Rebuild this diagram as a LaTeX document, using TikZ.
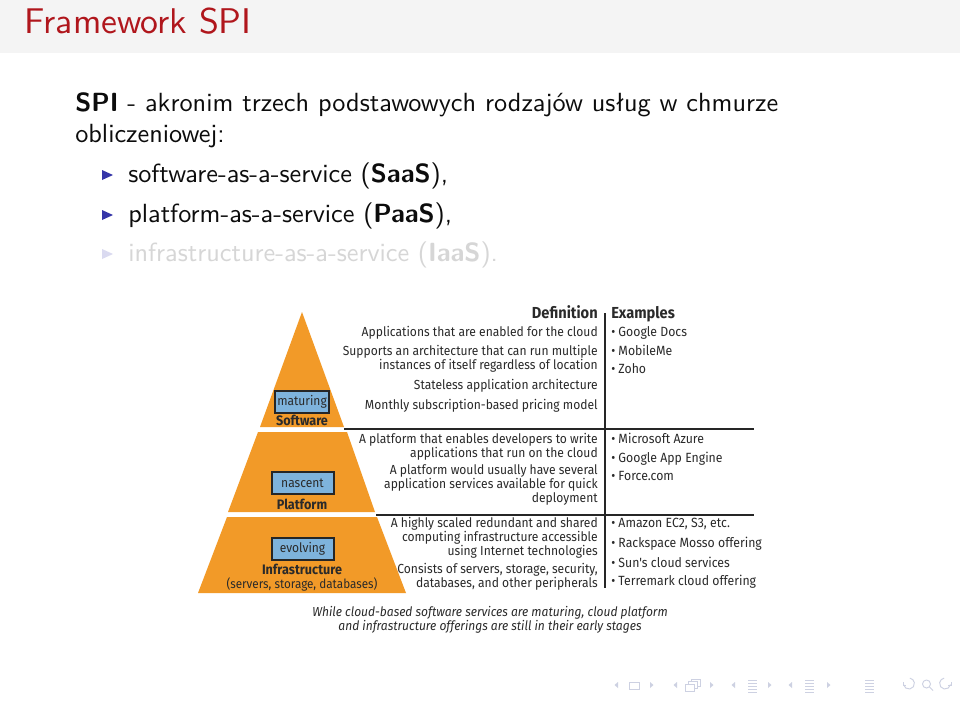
\documentclass[tikz,border=0pt]{standalone}
\usepackage{fontspec}
\setmainfont{lmsans10-regular.otf}[BoldFont=lmsans10-bold.otf]
\newfontfamily\figfont{Fira Sans}[FakeStretch=0.92]
\definecolor{titlered}{HTML}{B0161C}
\definecolor{band}{HTML}{F4F4F4}
\definecolor{bodyink}{HTML}{0C0C0C}
\definecolor{fadeink}{HTML}{D6D6D6}
\definecolor{bullet}{HTML}{3535A8}
\definecolor{fadebullet}{HTML}{DADAF0}
\definecolor{pyr}{HTML}{F29A28}
\definecolor{tag}{HTML}{7EB3DC}
\definecolor{figink}{HTML}{2A2A2A}
\definecolor{navc}{HTML}{CDD1E2}
\tikzset{
  x=0.75pt,y=-0.75pt,
  body/.style={anchor=base west,inner sep=0pt,text=bodyink,font=\fontsize{19.7}{24}\selectfont},
  fig/.style={inner sep=0pt,text=figink,font=\figfont\fontsize{9.85}{11}\selectfont},
  figb/.style={fig,font=\figfont\bfseries\fontsize{11.95}{13}\selectfont},
  figi/.style={fig,anchor=base,font=\figfont\itshape\fontsize{9.8}{11}\selectfont},
  defn/.style={fig,anchor=base east},
  exam/.style={fig,anchor=base west,font=\figfont\fontsize{10}{11}\selectfont},
  lab/.style={fig,anchor=base,font=\figfont\bfseries\fontsize{10.3}{11}\selectfont},
  tier/.style={fill=pyr,draw=none},
  tagbox/.style={fig,anchor=center,fill=tag,draw=black!85,line width=1.5pt,minimum height=16pt,font=\figfont\fontsize{9.8}{11}\selectfont},
  rule/.style={draw=black!85,line width=1.1pt},
  nav/.style={draw=navc,line width=0.7pt},
}
\begin{document}
\begin{tikzpicture}
\useasboundingbox (0,0) rectangle (960,700);
\fill[white] (0,0) rectangle (960,700);
\fill[band] (0,0) rectangle (960,53);
\node[anchor=base west,inner sep=0pt,text=titlered,font=\fontsize{26.8}{32}\selectfont] (title) at (24,33) {Framework SPI};
\node[body] (intro1) at (75,111) {\makebox[527.25pt][s]{\textbf{SPI} - akronim trzech podstawowych rodzajów usług w chmurze}};
\node[body] (intro2) at (75,142.5) {obliczeniowej:};
\fill[bullet] (102,170) -- (113,175) -- (102,180) -- cycle;
\fill[bullet] (102,210) -- (113,215) -- (102,220) -- cycle;
\fill[fadebullet] (102,249) -- (113,254) -- (102,259) -- cycle;
\node[body] (i1) at (128,182) {software-as-a-service (\textbf{SaaS}),};
\node[body] (i2) at (128,222) {platform-as-a-service (\textbf{PaaS}),};
\node[body,text=fadeink] (i3) at (128,261) {infrastructure-as-a-service (\textbf{IaaS}).};
% pyramid
\fill[tier] (302,312) -- (344,427) -- (260,427) -- cycle;
\fill[tier] (258,432) -- (347,432) -- (375,512) -- (228,512) -- cycle;
\fill[tier] (227,517) -- (377,517) -- (406,593) -- (198,593) -- cycle;
\node[tagbox,minimum width=40pt] (mat) at (302,402) {maturing};
\node[tagbox,minimum width=46.5pt] (nas) at (302.5,483) {nascent};
\node[tagbox,minimum width=46.5pt] (evo) at (302.5,549) {evolving};
\node[lab] (sw) at (302,425) {Software};
\node[lab] (pf) at (302,509) {Platform};
\node[lab] (inf) at (302,574) {Infrastructure};
\node[fig,anchor=base,font=\figfont\fontsize{9.55}{11}\selectfont] (infs) at (302,588) {(servers, storage, databases)};
% rules
\draw[rule] (605,313) -- (605,588);
\draw[rule] (344,429) -- (754,429);
\draw[rule] (376,515) -- (754,515);
% definitions
\node[figb,anchor=base east] (dh) at (598,318) {Definition};
\node[defn] (d1) at (598,336) {Applications that are enabled for the cloud};
\node[defn] (d2) at (598,355) {Supports an architecture that can run multiple};
\node[defn] (d3) at (598,369) {instances of itself regardless of location};
\node[defn] (d4) at (598,389) {Stateless application architecture};
\node[defn] (d5) at (598,409) {Monthly subscription-based pricing model};
\node[defn] (d6) at (598,443) {A platform that enables developers to write};
\node[defn] (d7) at (598,457) {applications that run on the cloud};
\node[defn] (d8) at (598,474) {A platform would usually have several};
\node[defn] (d9) at (598,488) {application services available for quick};
\node[defn] (d10) at (598,502) {deployment};
\node[defn] (d11) at (598,527) {A highly scaled redundant and shared};
\node[defn] (d12) at (598,541) {computing infrastructure accessible};
\node[defn] (d13) at (598,555) {using Internet technologies};
\node[defn] (d14) at (598,573) {Consists of servers, storage, security,};
\node[defn] (d15) at (598,587) {databases, and other peripherals};
% examples
\node[figb,anchor=base west] (eh) at (611,318) {Examples};
\node[exam] (e1) at (611,336) {• Google Docs};
\node[exam] (e2) at (611,355) {• MobileMe};
\node[exam] (e3) at (611,373) {• Zoho};
\node[exam] (e4) at (611,443) {• Microsoft Azure};
\node[exam] (e5) at (611,462) {• Google App Engine};
\node[exam] (e6) at (611,480) {• Force.com};
\node[exam] (e7) at (611,527) {• Amazon EC2, S3, etc.};
\node[exam] (e8) at (611,547) {• Rackspace Mosso offering};
\node[exam] (e9) at (611,567) {• Sun's cloud services};
\node[exam] (e10) at (611,585) {• Terremark cloud offering};
% caption
\node[figi] (c1) at (490,616) {While cloud-based software services are maturing, cloud platform};
\node[figi] (c2) at (490,630) {and infrastructure offerings are still in their early stages};
% navigation symbols
\foreach \a/\b in {618/650,677/710,735/768,792/827}{
  \fill[navc] (\a-3.5,685) -- (\a,682) -- (\a,688) -- cycle;
  \fill[navc] (\b+3.5,685) -- (\b,682) -- (\b,688) -- cycle;
}
\draw[nav] (629.5,682) rectangle (639.5,689);
\draw[nav] (685,684) rectangle (694,691);
\draw[nav] (688,684) -- (688,681.5) -- (697,681.5) -- (697,688) -- (694,688);
\draw[nav] (691,681.5) -- (691,679.5) -- (700,679.5) -- (700,686) -- (697,686);
\foreach \x in {748,805,865}{
  \foreach \y in {680,683,686,689,692}{\draw[nav] (\x,\y) -- (\x+9,\y);}
}
\draw[nav] (903,682) -- (903,685) -- (906,685);
\draw[nav] (903.5,684.5) arc (170:-80:5.5);
\draw[nav] (926.5,684) circle (4);
\draw[nav] (929.5,687) -- (933,690.5);
\draw[nav] (951,682) -- (951,685) -- (948,685);
\draw[nav] (950.5,684.5) arc (10:260:5.5);
\end{tikzpicture}
\end{document}
